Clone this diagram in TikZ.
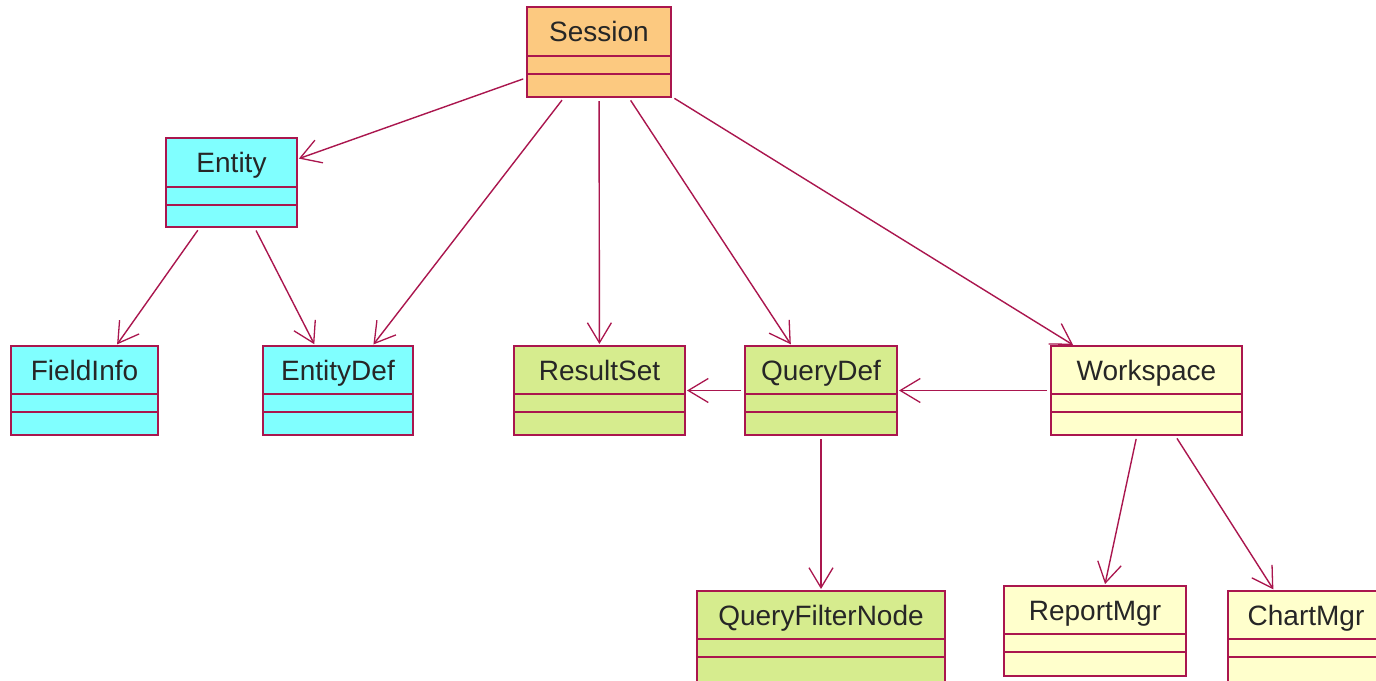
\documentclass[tikz,border=0pt]{standalone}
\usepackage{fontspec}
\setmainfont{Liberation Sans}
\usetikzlibrary{arrows.meta}
\definecolor{lc}{RGB}{170,22,78}
\definecolor{fOrange}{RGB}{252,201,128}
\definecolor{fCyan}{RGB}{128,255,255}
\definecolor{fGreen}{RGB}{214,236,142}
\definecolor{fYellow}{RGB}{255,255,204}
\tikzset{
  clsbox/.style={draw=lc, line width=2pt, rectangle, inner sep=0pt, outer sep=0pt},
  clslabel/.style={font=\fontsize{28}{30}\selectfont, inner sep=0pt, anchor=base, text=black!85},
  compline/.style={draw=lc, line width=2pt},
  assoc/.style={draw=lc, line width=1.4pt, shorten <=4pt, shorten >=2pt,
    -{Straight Barb[length=20pt, width=24pt, line width=1.3pt]}},
}
% name, label, fill, x1, y1, x2, y2, first compartment line y, second line y
\newcommand\umlcls[9]{%
  \node[clsbox, fill=#3, minimum width={#6-#4}, minimum height={#7-#5}] (#1) at ({(#4+#6)/2},{(#5+#7)/2}) {};
  \node[clslabel] (#1-n) at ({(#4+#6)/2},{(#5+#8)/2+10}) {#2};
  \draw[compline] (#4,#8) -- (#6,#8) (#4,#9) -- (#6,#9);
}
\begin{document}
\begin{tikzpicture}[x=1pt, y=-1pt]
\clip (0,0) rectangle (1376,680);
\fill[white] (0,0) rectangle (1376,680);
\umlcls{ses}{Session}{fOrange}{527}{7}{671}{97}{56}{74}
\umlcls{ent}{Entity}{fCyan}{166}{138}{297}{227}{187}{205}
\umlcls{fi}{FieldInfo}{fCyan}{11}{346}{158}{435}{394}{412}
\umlcls{ed}{EntityDef}{fCyan}{263}{346}{413}{435}{394}{412}
\umlcls{rs}{ResultSet}{fGreen}{514}{346}{685}{435}{394}{412}
\umlcls{qd}{QueryDef}{fGreen}{745}{346}{897}{435}{394}{412}
\umlcls{ws}{Workspace}{fYellow}{1051}{346}{1242}{435}{394}{412}
\umlcls{qfn}{QueryFilterNode}{fGreen}{697}{591}{945}{690}{639}{657}
\umlcls{rm}{ReportMgr}{fYellow}{1004}{586}{1186}{676}{634}{652}
\umlcls{cm}{ChartMgr}{fYellow}{1228}{591}{1384}{690}{639}{657}
\draw[assoc] (ses) -- (ent);
\draw[assoc] (ses) -- (ed);
\draw[assoc] (ses) -- (rs);
\draw[assoc] (ses) -- (qd);
\draw[assoc] (ses) -- (ws);
\draw[assoc] (ent) -- (fi);
\draw[assoc] (ent) -- (ed);
\draw[assoc] (qd) -- (rs);
\draw[assoc] (ws) -- (qd);
\draw[assoc] (qd) -- (qfn);
\draw[assoc] (ws) -- (rm);
\draw[assoc] (ws) -- (cm);
\end{tikzpicture}
\end{document}
